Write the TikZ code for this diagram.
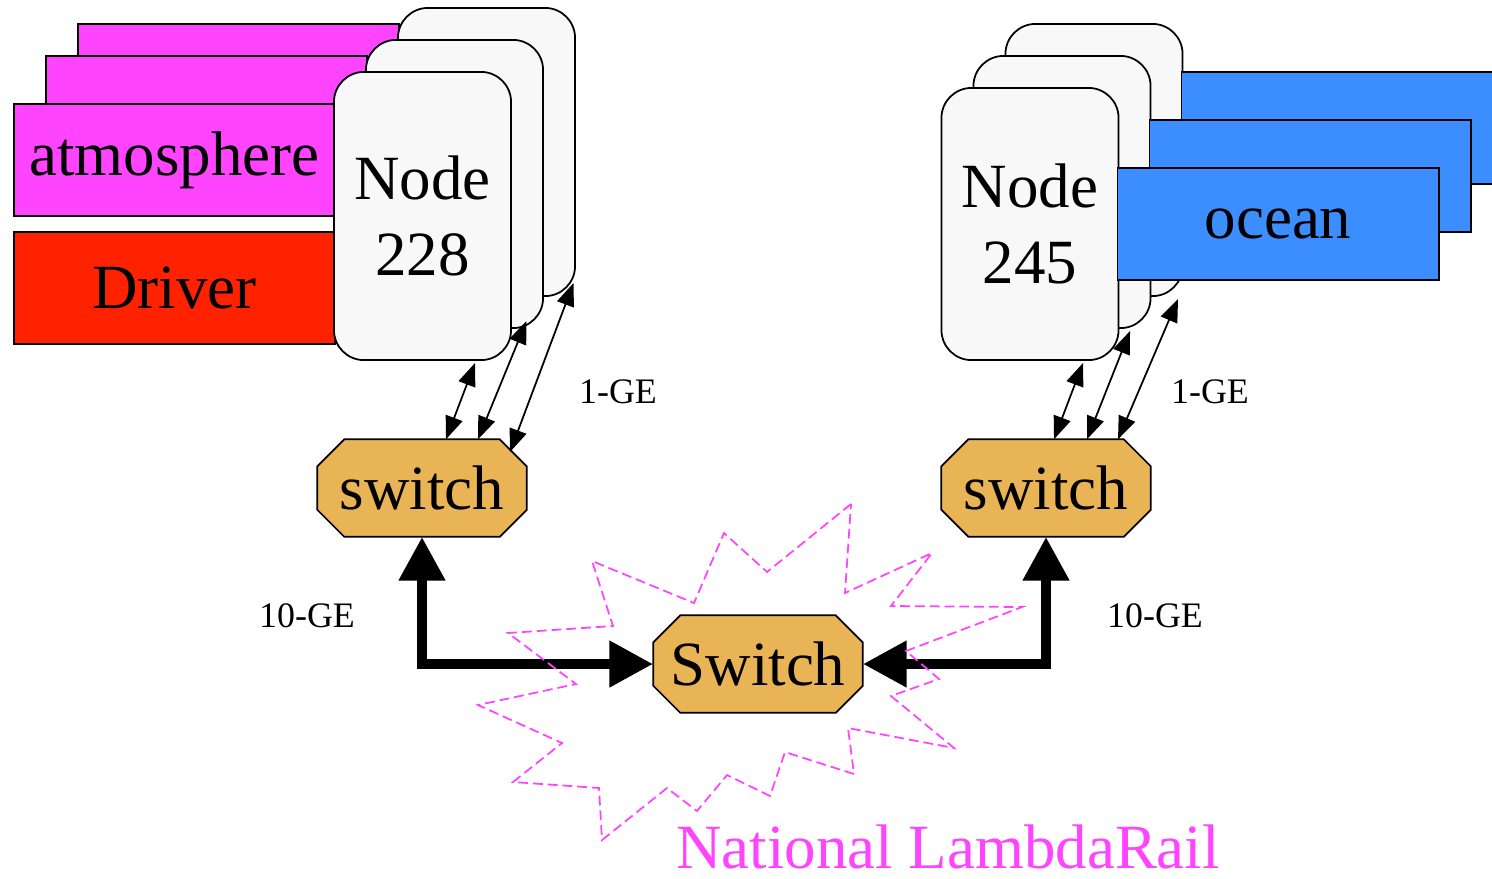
\documentclass[tikz,border=0pt]{standalone}
\usepackage{fontspec}
\setmainfont{Liberation Serif}
\usepackage{xcolor}
\usepackage{tikz}
\usetikzlibrary{arrows.meta, positioning, calc, backgrounds}
\definecolor{atmomagenta}{HTML}{FF44FF}
\definecolor{driverred}{HTML}{FF2200}
\definecolor{oceanblue}{HTML}{3C8EFF}
\definecolor{switchgold}{HTML}{E8B455}
\definecolor{cardwhite}{HTML}{F8F8F8}
% octagon behind a switch node
\newcommand\octbox[1]{%
  \draw[line width=0.5pt, fill=switchgold]
    ($(#1.north west)+(27,0)$) -- ($(#1.north east)+(-27,0)$)
    -- ($(#1.north east)+(0,27)$) -- ($(#1.south east)+(0,-27)$)
    -- ($(#1.south east)+(-27,0)$) -- ($(#1.south west)+(27,0)$)
    -- ($(#1.south west)+(0,-27)$) -- ($(#1.north west)+(0,27)$) -- cycle;}

\begin{document}
\begin{tikzpicture}[x=0.01cm, y=-0.01cm,
  big/.style={font=\fontsize{17.9pt}{21.5pt}\selectfont},
  small/.style={font=\fontsize{10.2pt}{12pt}\selectfont},
  model/.style={draw, line width=0.5pt, inner sep=0, minimum width=3.21cm, minimum height=1.12cm, big},
  card/.style={draw, line width=0.5pt, fill=cardwhite, rounded corners=0.3cm, inner sep=0, minimum width=1.77cm, align=center, big},
  switchbox/.style={inner sep=0, minimum width=2.08cm, minimum height=0.96cm, big},
  link/.style={line width=0.5pt, {Triangle[length=6.5pt,width=5pt]}-{Triangle[length=6.5pt,width=5pt]}},
  trunk/.style={line width=3.1pt, {Triangle[length=12.5pt,width=12.5pt]}-{Triangle[length=12.5pt,width=12.5pt]}},
  cloud/.style={draw=atmomagenta, line width=0.5pt, dash pattern=on 2.8pt off 1.4pt}]
  \useasboundingbox (0,0) rectangle (1492,878);

  % Node 228 with atmosphere and driver
  \node[model, fill=atmomagenta] (atmoc) at (238.5,80) {};
  \node[card, minimum height=2.88cm] (n228c) at (486.5,152) {};
  \node[model, fill=atmomagenta] (atmob) at (206.5,112) {};
  \node[card, minimum height=2.88cm] (n228b) at (454.5,184) {};
  \node[model, fill=atmomagenta] (atmoa) at (174.5,160) {atmosphere};
  \node[model, fill=driverred] (driver) at (174.5,288) {Driver};
  \node[card, minimum height=2.88cm] (n228a) at (422.5,216) {Node\\228};

  % Node 245 with ocean
  \node[card, minimum height=2.72cm] (n245c) at (1094,160) {};
  \node[model, fill=oceanblue] (oceanc) at (1342,128) {};
  \node[card, minimum height=2.72cm] (n245b) at (1062,192) {};
  \node[model, fill=oceanblue] (oceanb) at (1310,176) {};
  \node[card, minimum height=2.72cm] (n245a) at (1030,224) {Node\\245};
  \node[model, fill=oceanblue] (oceana) at (1278,224) {ocean};

  % Switches
  \node[switchbox] (sw228) at (422,488) {switch};
  \node[switchbox] (sw245) at (1046,488) {switch};
  \node[switchbox] (nlr) at (758,664) {Switch};
  \begin{scope}[on background layer]
    \octbox{sw228}
    \octbox{sw245}
    \octbox{nlr}
  \end{scope}

  % 1-GE links
  \draw[link] ($(sw228.north)+(24,0)$) -- ($(n228a.south)+(52.5,2)$);
  \draw[link] ($(sw228.north)+(56,0)$) -- ($(n228b.south)+(72,-8)$);
  \draw[link] ($(sw228.center)+(88,-36)$) -- ($(n228c.south)+(87,-14)$);
  \draw[link] ($(sw245.north)+(8,0)$) -- ($(n245a.south)+(53,2)$);
  \draw[link] ($(sw245.north)+(41,0)$) -- ($(n245b.south)+(68,2)$);
  \draw[link] ($(sw245.north)+(72,0)$) -- ($(n245c.south)+(84,2)$);

  % 10-GE links
  \draw[trunk] (sw228.south) |- (nlr.west);
  \draw[trunk] (sw245.south) |- (nlr.east);

  % Labels
  \node[small] (ge1a) at (618,392) {1-GE};
  \node[small] (ge1b) at (1210,392) {1-GE};
  \node[small] (ge10a) at (307,616) {10-GE};
  \node[small] (ge10b) at (1155,616) {10-GE};

  % LambdaRail cloud
  \draw[cloud] (851,504) -- (767,572) -- (724,533) -- (694,603) -- (592,561)
    -- (613,626) -- (508,633) -- (576,684) -- (478,705) -- (562,743)
    -- (513,782) -- (599,788) -- (602,840) -- (667,788) -- (697,811)
    -- (727,775) -- (770,796) -- (785,752) -- (854,774) -- (848,728)
    -- (954,748) -- (891,696) -- (939,679) -- (906,651) -- (1022,607)
    -- (891,606) -- (932,553) -- (845,593) -- cycle;
  \node[big, text=atmomagenta, inner sep=0] (nlrname) at (948,847) {National LambdaRail};
\end{tikzpicture}
\end{document}
